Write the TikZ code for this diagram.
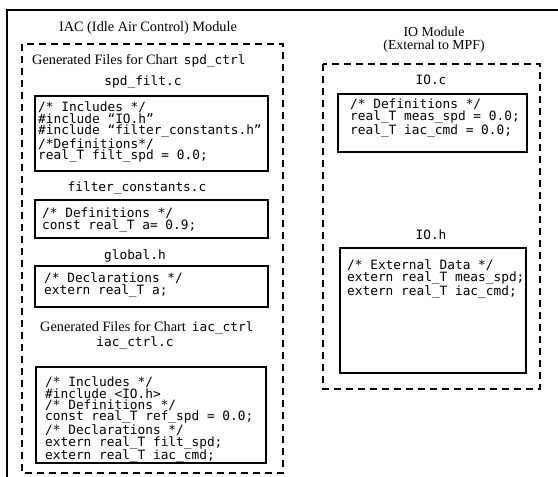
\documentclass[tikz,border=0pt]{standalone}
\usepackage{fontspec}
\setmainfont{Liberation Serif}
\newfontfamily\codefont{DejaVu Sans Mono}

\begin{document}
\begin{tikzpicture}[x=1pt,y=-1pt,
		codebox/.style={draw, line width=1.2pt},
		modbox/.style={draw, line width=1.2pt, dash pattern=on 7pt off 5pt},
		codetext/.style={anchor=north west, inner sep=0pt, align=left, font=\codefont\fontsize{12.8}{11.3}\selectfont},
		filename/.style={inner sep=0pt, font=\codefont\fontsize{12.8}{14}\selectfont},
		heading/.style={inner sep=0pt, align=center, font=\fontsize{14.3}{13.5}\selectfont}]
		\useasboundingbox (0,0) rectangle (558,477);
		\draw[line width=1.5pt] (7,477) -- (7,10) -- (558,10);  % outer frame
		
		% IAC module
		\node[heading] (iac) at (148,28) {IAC (Idle Air Control) Module};
		\draw[modbox] (22,44) rectangle (283,473);
		\node[heading, anchor=west] (chart1) at (32,61) {Generated Files for Chart \,{\codefont\fontsize{12.8}{14}\selectfont spd\_ctrl}};
		\node[filename] (spdname) at (143,82) {spd\_filt.c};
		\draw[codebox] (35,96) rectangle (268,171);
		\node[codetext] (spdcode) at (38,102) {/* Includes */\\\#include “IO.h”\\\#include “filter\_constants.h”\\/*Definitions*/\\real\_T filt\_spd = 0.0;};
		\node[filename] (fcname) at (137,188) {filter\_constants.c};
		\draw[codebox] (35,200) rectangle (268,238);
		\node[codetext] (fccode) at (42,208) {/* Definitions */\\const real\_T a= 0.9;};
		\node[filename] (globname) at (135,256) {global.h};
		\draw[codebox] (35,266) rectangle (268,307);
		\node[codetext] (globcode) at (44,273) {/* Declarations */\\extern real\_T a;};
		\node[heading, anchor=west] (chart2) at (40,328) {Generated Files for Chart \,{\codefont\fontsize{12.8}{14}\selectfont iac\_ctrl}};
		\node[filename] (iacname) at (135,343) {iac\_ctrl.c};
		\draw[codebox] (36,367) rectangle (266,463);
		\node[codetext] (iaccode) at (45,377) {/* Includes */\\\#include <IO.h>\\/* Definitions */\\const real\_T ref\_spd = 0.0;\\/* Declarations */\\extern real\_T filt\_spd;\\extern real\_T iac\_cmd;};
		
		% IO module
		\node[heading, font=\fontsize{13.8}{13.5}\selectfont] (io) at (434,39.5) {IO Module\\(External to MPF)};
		\draw[modbox] (323,64) rectangle (540,389);
		\node[filename] (ioc) at (431,80) {IO.c};
		\draw[codebox] (338,94) rectangle (527,152);
		\node[codetext] (ioccode) at (350,99) {/* Definitions */\\real\_T meas\_spd = 0.0;\\real\_T iac\_cmd = 0.0;};
		\node[filename] (ioh) at (431,235) {IO.h};
		\draw[codebox] (340,248) rectangle (526,373);
		\node[codetext] (iohcode) at (347,260) {/* External Data */\\extern real\_T meas\_spd;\\extern real\_T iac\_cmd;};
	\end{tikzpicture}
\end{document}
